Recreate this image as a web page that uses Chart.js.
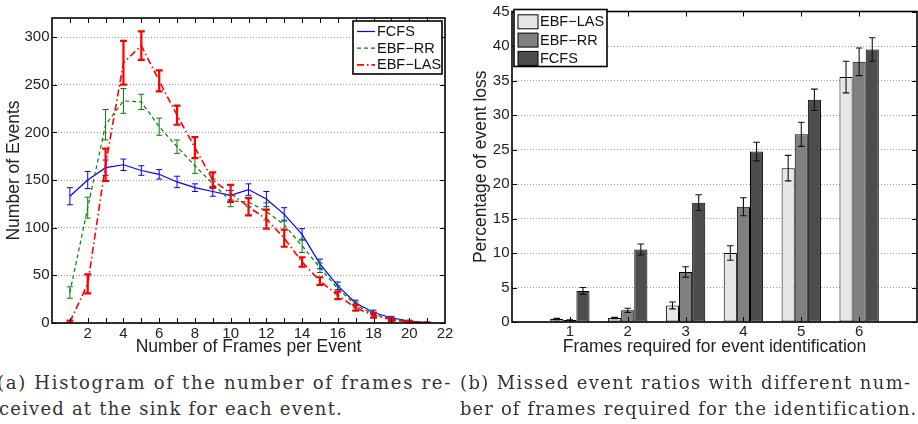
<!DOCTYPE html>
<html>
<head>
<meta charset="utf-8">
<script src="https://cdn.jsdelivr.net/npm/chart.js"></script>
<style>
  html, body { margin: 0; padding: 0; background: #fff; }
  body { width: 918px; height: 424px; position: relative; overflow: hidden; }
  canvas { position: absolute; top: 0; width: 460px; height: 362px; }
  #histChart { left: 0; }
  #lossChart { left: 458px; }
  .cap {
    position: absolute;
    font-family: "DejaVu Serif", "Liberation Serif", serif;
    font-size: 18px;
    line-height: 18px;
    color: #333;
    white-space: nowrap;
  }
</style>
</head>
<body>
<canvas id="histChart" width="460" height="362"></canvas>
<canvas id="lossChart" width="460" height="362"></canvas>

<div class="cap" data-w="455" style="left:-3px; top:374px;">(a) Histogram of the number of frames re-</div>
<div class="cap" data-w="344" style="left:-1px; top:400px;">ceived at the sink for each event.</div>
<div class="cap" data-w="451" style="left:460px; top:374px;">(b) Missed event ratios with different num-</div>
<div class="cap" data-w="457" style="left:460px; top:400px;">ber of frames required for the identification.</div>

<script>
// ---- data: (a) histogram of frames per event
const frames = [1, 2, 3, 4, 5, 6, 7, 8, 9, 10, 11, 12, 13, 14, 15, 16, 17, 18, 19, 20, 21];
const fcfsEvents = [133, 150, 163, 166, 160, 156, 148, 142, 138, 134, 140, 130, 114, 93, 62, 39, 21, 11, 5.5, 2, 0.5];
const fcfsEventsErr = [9, 9, 8, 6, 5, 5, 6, 4, 5, 5, 6, 8, 7, 6, 5, 4, 3, 2.5, 1.5, 1, 0.5];
const rrEvents = [32, 121, 208, 233, 232, 206, 185, 165, 146, 128, 127, 117, 103, 81, 58, 36, 19, 9, 4.5, 1.5, 0.3];
const rrEventsErr = [6, 11, 16, 13, 8, 9, 7, 8, 5, 6, 5, 9, 5, 7, 5, 3, 3, 2.5, 1.5, 1, 0.3];
const lasEvents = [1, 41, 166, 273, 291, 254, 218, 184, 150, 136, 122, 109, 89, 64, 44, 29, 16, 8, 3.5, 1, 0.2];
const lasEventsErr = [1.5, 10, 17, 23, 15, 11, 10, 11, 8, 9, 9, 10, 9, 5, 4, 4, 3, 2.5, 1.5, 1, 0.3];
const histXTicks = [2, 4, 6, 8, 10, 12, 14, 16, 18, 20, 22];
const histYTicks = [0, 50, 100, 150, 200, 250, 300];

// ---- data: (b) percentage of event loss
const lossCategories = ['1', '2', '3', '4', '5', '6'];
const lasLoss = [0.42, 0.57, 2.4, 10.0, 22.3, 35.5];
const lasLossErr = [0.1, 0.1, 0.5, 1.05, 1.85, 2.3];
const rrLoss = [0.28, 1.7, 7.25, 16.7, 27.2, 37.7];
const rrLossErr = [0.05, 0.3, 0.75, 1.3, 1.75, 2.0];
const fcfsLoss = [4.5, 10.5, 17.3, 24.7, 32.2, 39.5];
const fcfsLossErr = [0.5, 0.8, 1.15, 1.35, 1.55, 1.7];
const lossYTicks = [0, 5, 10, 15, 20, 25, 30, 35, 40, 45];

const FONT = '"Liberation Sans", Arial, sans-serif';
Chart.defaults.font.family = FONT;
Chart.defaults.color = '#222';

// stretch each caption line to the width it has in the typeset original
document.querySelectorAll('.cap').forEach(el => {
  const natural = el.getBoundingClientRect().width;
  const n = el.textContent.length;
  el.style.letterSpacing = ((+el.dataset.w - natural) / n) + 'px';
});

// error bars, inward ticks, box and the legend, matlab style
const matlabPlot = {
  id: 'matlabPlot',
  afterDatasetsDraw(chart, args, opts) {
    const { ctx, chartArea: a, scales } = chart;
    ctx.save();
    ctx.beginPath();
    ctx.rect(a.left, a.top, a.width, a.height);
    ctx.clip();
    ctx.setLineDash([]);
    chart.data.datasets.forEach((ds, i) => {
      if (!ds.errors) return;
      const meta = chart.getDatasetMeta(i);
      ctx.strokeStyle = ds.errorColor || ds.borderColor;
      ctx.lineWidth = ds.errorWidth || 1;
      const cap = ds.errorCap || 3;
      meta.data.forEach((el, j) => {
        const d = ds.data[j];
        const v = (d !== null && typeof d === 'object') ? d.y : d;
        const e = ds.errors[j];
        if (v == null || e == null) return;
        const x = el.x;
        const yLo = scales.y.getPixelForValue(v - e);
        const yHi = scales.y.getPixelForValue(v + e);
        ctx.beginPath();
        ctx.moveTo(x, yLo); ctx.lineTo(x, yHi);
        ctx.moveTo(x - cap, yLo); ctx.lineTo(x + cap, yLo);
        ctx.moveTo(x - cap, yHi); ctx.lineTo(x + cap, yHi);
        ctx.stroke();
      });
    });
    ctx.restore();

    // inward tick marks on all four sides
    ctx.save();
    ctx.strokeStyle = '#000';
    ctx.lineWidth = 1;
    const len = 5;
    ctx.beginPath();
    opts.xTicks.forEach(v => {
      const x = Math.round(scales.x.getPixelForValue(v)) + 0.5;
      ctx.moveTo(x, a.bottom); ctx.lineTo(x, a.bottom - len);
      ctx.moveTo(x, a.top); ctx.lineTo(x, a.top + len);
    });
    opts.yTicks.forEach(v => {
      const y = Math.round(scales.y.getPixelForValue(v)) + 0.5;
      ctx.moveTo(a.left, y); ctx.lineTo(a.left + len, y);
      ctx.moveTo(a.right, y); ctx.lineTo(a.right - len, y);
    });
    ctx.stroke();
    ctx.lineWidth = 1.6;
    ctx.strokeRect(a.left, a.top, a.width, a.height);

    // legend box
    const lg = opts.legend;
    ctx.fillStyle = '#fff';
    ctx.fillRect(lg.left, lg.top, lg.width, lg.height);
    ctx.lineWidth = 1.6;
    ctx.strokeStyle = '#000';
    ctx.strokeRect(lg.left, lg.top, lg.width, lg.height);
    ctx.font = '14.5px ' + FONT;
    ctx.textBaseline = 'middle';
    ctx.textAlign = 'left';
    chart.data.datasets.forEach((ds, i) => {
      const cy = lg.top + lg.rowStart + i * lg.rowGap;
      const sx = lg.left + lg.sampleX;
      if (lg.kind === 'line') {
        ctx.strokeStyle = ds.borderColor;
        ctx.lineWidth = ds.borderWidth;
        ctx.setLineDash(ds.borderDash || []);
        ctx.beginPath();
        ctx.moveTo(sx, cy); ctx.lineTo(sx + lg.sampleW, cy);
        ctx.stroke();
        ctx.setLineDash([]);
      } else {
        ctx.fillStyle = ds.backgroundColor;
        ctx.fillRect(sx, cy - 7, lg.sampleW, 14);
        ctx.strokeStyle = '#000';
        ctx.lineWidth = 1;
        ctx.strokeRect(sx, cy - 7, lg.sampleW, 14);
      }
      ctx.fillStyle = '#111';
      ctx.fillText(ds.label, lg.left + lg.textX, cy + 0.5);
    });
    ctx.restore();
  }
};

const tickFont = { size: 15 };
const titleFont = { size: 17.5 };
const gridStyle = { color: '#9a9a9a', lineWidth: 1, drawTicks: false, borderDash: [1, 2] };

// ---- (a) line chart with error bars
new Chart(document.getElementById('histChart'), {
  type: 'line',
  data: {
    datasets: [
      {
        label: 'FCFS',
        data: frames.map((f, i) => ({ x: f, y: fcfsEvents[i] })),
        errors: fcfsEventsErr,
        borderColor: '#0000ff',
        borderWidth: 1.2,
        errorCap: 3,
        order: 3
      },
      {
        label: 'EBF\u2212RR',
        data: frames.map((f, i) => ({ x: f, y: rrEvents[i] })),
        errors: rrEventsErr,
        borderColor: '#008000',
        borderWidth: 1.2,
        borderDash: [4, 3],
        errorCap: 3,
        order: 2
      },
      {
        label: 'EBF\u2212LAS',
        data: frames.map((f, i) => ({ x: f, y: lasEvents[i] })),
        errors: lasEventsErr,
        borderColor: '#ff0000',
        borderWidth: 1.6,
        borderDash: [7, 3, 1.5, 3],
        errorWidth: 2.2,
        errorCap: 3.5,
        order: 1
      }
    ]
  },
  options: {
    responsive: false,
    animation: false,
    layout: { padding: { left: 0, right: 15, top: 18, bottom: 0 } },
    elements: { point: { radius: 0 }, line: { tension: 0, fill: false } },
    plugins: {
      legend: { display: false },
      tooltip: { enabled: false },
      matlabPlot: {
        xTicks: frames,
        yTicks: histYTicks,
        legend: { kind: 'line', left: 353, top: 21, width: 89, height: 53,
                  rowStart: 10.5, rowGap: 16.7, sampleX: 4, sampleW: 18, textX: 24 }
      }
    },
    scales: {
      x: {
        type: 'linear',
        min: 0,
        max: 22,
        afterBuildTicks: axis => { axis.ticks = histXTicks.map(v => ({ value: v })); },
        afterFit: axis => { axis.height = 39; },
        grid: { display: false, drawTicks: false },
        border: { display: false },
        ticks: { font: tickFont, padding: 2, maxRotation: 0, autoSkip: false },
        title: { display: true, text: 'Number of Frames per Event', font: titleFont,
                 padding: { top: 0, bottom: 4 } }
      },
      y: {
        min: 0,
        max: 320,
        afterBuildTicks: axis => { axis.ticks = histYTicks.map(v => ({ value: v })); },
        afterFit: axis => { axis.width = 52; },
        grid: gridStyle,
        border: { display: false, dash: [1, 2] },
        ticks: { font: tickFont, padding: 2.5 },
        title: { display: true, text: 'Number of Events', font: titleFont,
                 padding: { top: 4, bottom: 0 } }
      }
    }
  },
  plugins: [matlabPlot]
});

// ---- (b) grouped bars with error bars
const lossLabels = [''].concat(lossCategories, ['']);
const pad = arr => [null].concat(arr, [null]);

new Chart(document.getElementById('lossChart'), {
  type: 'bar',
  data: {
    labels: lossLabels,
    datasets: [
      { label: 'EBF\u2212LAS', data: pad(lasLoss), errors: pad(lasLossErr), backgroundColor: '#e6e6e6' },
      { label: 'EBF\u2212RR', data: pad(rrLoss), errors: pad(rrLossErr), backgroundColor: '#808080' },
      { label: 'FCFS', data: pad(fcfsLoss), errors: pad(fcfsLossErr), backgroundColor: '#4d4d4d' }
    ].map(ds => Object.assign(ds, {
      borderColor: '#000',
      borderWidth: 1,
      borderSkipped: false,
      errorColor: '#111',
      errorWidth: 1.1,
      errorCap: 3.3,
      barPercentage: 1,
      categoryPercentage: 0.68
    }))
  },
  options: {
    responsive: false,
    animation: false,
    layout: { padding: { left: 0, right: 1, top: 8, bottom: 0 } },
    plugins: {
      legend: { display: false },
      tooltip: { enabled: false },
      matlabPlot: {
        xTicks: [1, 2, 3, 4, 5, 6],
        yTicks: lossYTicks,
        legend: { kind: 'box', left: 56, top: 9.5, width: 93, height: 57,
                  rowStart: 12.3, rowGap: 18.3, sampleX: 4, sampleW: 20, textX: 26 }
      }
    },
    scales: {
      x: {
        type: 'category',
        offset: false,
        afterFit: axis => { axis.height = 40; },
        grid: { display: false, drawTicks: false },
        border: { display: false },
        ticks: { font: tickFont, padding: 1, maxRotation: 0, autoSkip: false },
        title: { display: true, text: 'Frames required for event identification', font: titleFont,
                 padding: { top: 0, bottom: 4.5 } }
      },
      y: {
        min: 0,
        max: 45,
        afterBuildTicks: axis => { axis.ticks = lossYTicks.map(v => ({ value: v })); },
        afterFit: axis => { axis.width = 54; },
        grid: gridStyle,
        border: { display: false, dash: [1, 2] },
        ticks: { font: tickFont, padding: 2.5 },
        title: { display: true, text: 'Percentage of event loss', font: titleFont,
                 padding: { top: 12.5, bottom: 0 } }
      }
    }
  },
  plugins: [matlabPlot]
});
</script>
</body>
</html>
